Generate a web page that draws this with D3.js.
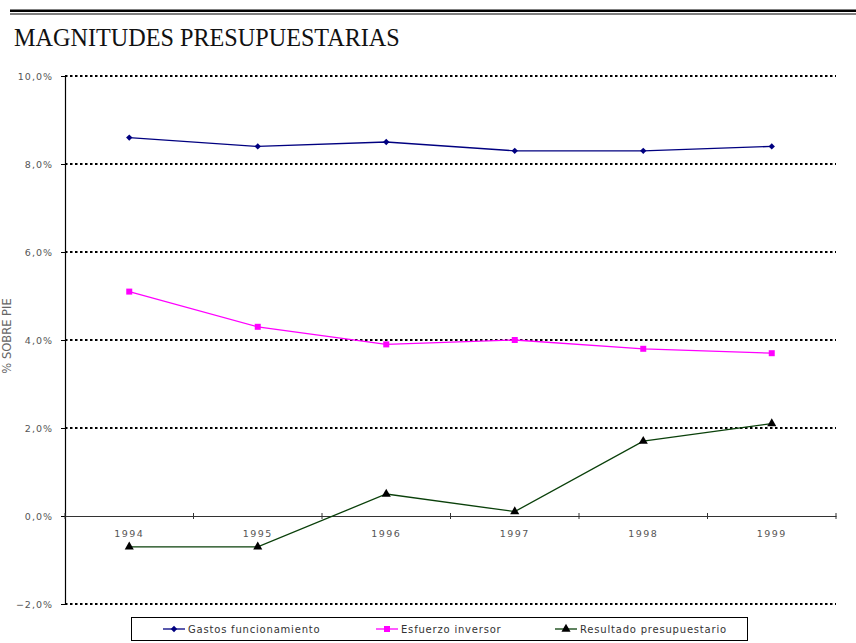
<!DOCTYPE html>
<html><head><meta charset="utf-8">
<script src="https://cdn.jsdelivr.net/npm/d3@7"></script>
<style>body{margin:0;background:#fff}svg{display:block}</style>
</head><body>
<script>
const years = ["1994","1995","1996","1997","1998","1999"];
const gastos = [8.6, 8.4, 8.5, 8.3, 8.3, 8.4];
const esfuerzo = [5.1, 4.3, 3.9, 4.0, 3.8, 3.7];
const resultado = [-0.7, -0.7, 0.5, 0.1, 1.7, 2.1];
const yTicks = [-2, 0, 2, 4, 6, 8, 10];
const seriesNames = ["Gastos funcionamiento", "Esfuerzo inversor", "Resultado presupuestario"];

const W = 856, H = 643;
const m = {l:65, r:836, t:76, b:604};
const svg = d3.select("body").append("svg").attr("width", W).attr("height", H);

// header lines
svg.append("rect").attr("x",10).attr("y",9.5).attr("width",846).attr("height",2.5).attr("fill","#000");
svg.append("rect").attr("x",10).attr("y",13.5).attr("width",846).attr("height",1).attr("fill","#000");
svg.append("text").attr("x",14).attr("y",46).attr("font-family","Liberation Serif, serif")
  .attr("font-size",24.2).attr("fill","#111").text("MAGNITUDES PRESUPUESTARIAS");

const x = d3.scaleBand().domain(years).range([m.l, m.r]);
const y = d3.scaleLinear().domain([-2, 10]).range([m.b, m.t]);
const fmt = d => d3.format(".1f")(d).replace(".", ",") + "%";

// gridlines
svg.append("g").selectAll("line").data(yTicks.filter(d => d !== 0)).join("line")
  .attr("x1", m.l).attr("x2", m.r).attr("y1", d => y(d)).attr("y2", d => y(d))
  .attr("stroke", "#000").attr("stroke-width", 2).attr("stroke-dasharray", "2.5,2.5");

// y axis
const yAxis = svg.append("g").attr("transform", `translate(${m.l},0)`)
  .call(d3.axisLeft(y).tickValues(yTicks).tickFormat(fmt).tickSize(4).tickPadding(8));
yAxis.select(".domain").attr("stroke", "#000").attr("stroke-width", 1.2);
yAxis.selectAll(".tick line").attr("stroke", "#000");
yAxis.selectAll("text").attr("font-family", "DejaVu Sans, sans-serif").attr("font-size", 9.5)
  .attr("fill", "#555").attr("letter-spacing", "1px");

// x axis at 0
const xAxis = svg.append("g").attr("transform", `translate(0,${y(0)})`)
  .call(d3.axisBottom(x).tickSize(0).tickPadding(14));
xAxis.select(".domain").attr("stroke", "#333").attr("stroke-width", 1.2);
xAxis.selectAll("text").attr("font-family", "DejaVu Sans, sans-serif").attr("font-size", 9.5)
  .attr("fill", "#555").attr("letter-spacing", "1.5px");
// band boundary ticks
const bounds = years.map(d => x(d) + x.bandwidth()).concat([m.l]);
svg.append("g").selectAll("line").data(bounds).join("line")
  .attr("x1", d => d).attr("x2", d => d).attr("y1", y(0) - 3).attr("y2", y(0) + 3)
  .attr("stroke", "#333").attr("stroke-width", 1);

// y title
svg.append("text").attr("transform", `translate(11,336) rotate(-90)`).attr("text-anchor", "middle")
  .attr("font-family", "DejaVu Sans, sans-serif").attr("font-size", 11.5).attr("fill", "#666")
  .text("% SOBRE PIE");

const cx = d => x(d) + x.bandwidth() / 2;
const line = d3.line().x((d, i) => cx(years[i])).y(d => y(d));
const series = [
  {vals: gastos, color: "#000080", marker: d3.symbolSquare, rot: 45, mcolor: "#000080", size: 20},
  {vals: esfuerzo, color: "#ff00ff", marker: d3.symbolSquare, rot: 0, mcolor: "#ff00ff", size: 36},
  {vals: resultado, color: "#0a400a", marker: d3.symbolTriangle, rot: 0, mcolor: "#000", size: 36}
];
series.forEach(s => {
  svg.append("path").datum(s.vals).attr("d", line).attr("fill", "none")
    .attr("stroke", s.color).attr("stroke-width", 1.3);
  svg.append("g").selectAll("path").data(s.vals).join("path")
    .attr("transform", (d, i) => `translate(${cx(years[i])},${y(d)}) rotate(${s.rot})`)
    .attr("d", d3.symbol().type(s.marker).size(s.size)).attr("fill", s.mcolor);
});

// legend
const lg = svg.append("g");
lg.append("rect").attr("x", 131.5).attr("y", 617.5).attr("width", 616).attr("height", 23)
  .attr("fill", "#fff").attr("stroke", "#000").attr("stroke-width", 1);
const lx = [163, 376, 555];
series.forEach((s, i) => {
  const g = lg.append("g").attr("transform", `translate(${lx[i]},629)`);
  g.append("line").attr("x1", 0).attr("x2", 22).attr("stroke", s.color).attr("stroke-width", 1.3);
  g.append("path").attr("transform", `translate(11,0) rotate(${s.rot})`).attr("d", d3.symbol().type(s.marker).size(s.size)).attr("fill", s.mcolor);
  g.append("text").attr("x", 25).attr("y", 4).attr("font-family", "DejaVu Sans, sans-serif")
    .attr("font-size", 10).attr("fill", "#333").attr("letter-spacing", "0.8px").text(seriesNames[i]);
});
</script>
</body></html>
